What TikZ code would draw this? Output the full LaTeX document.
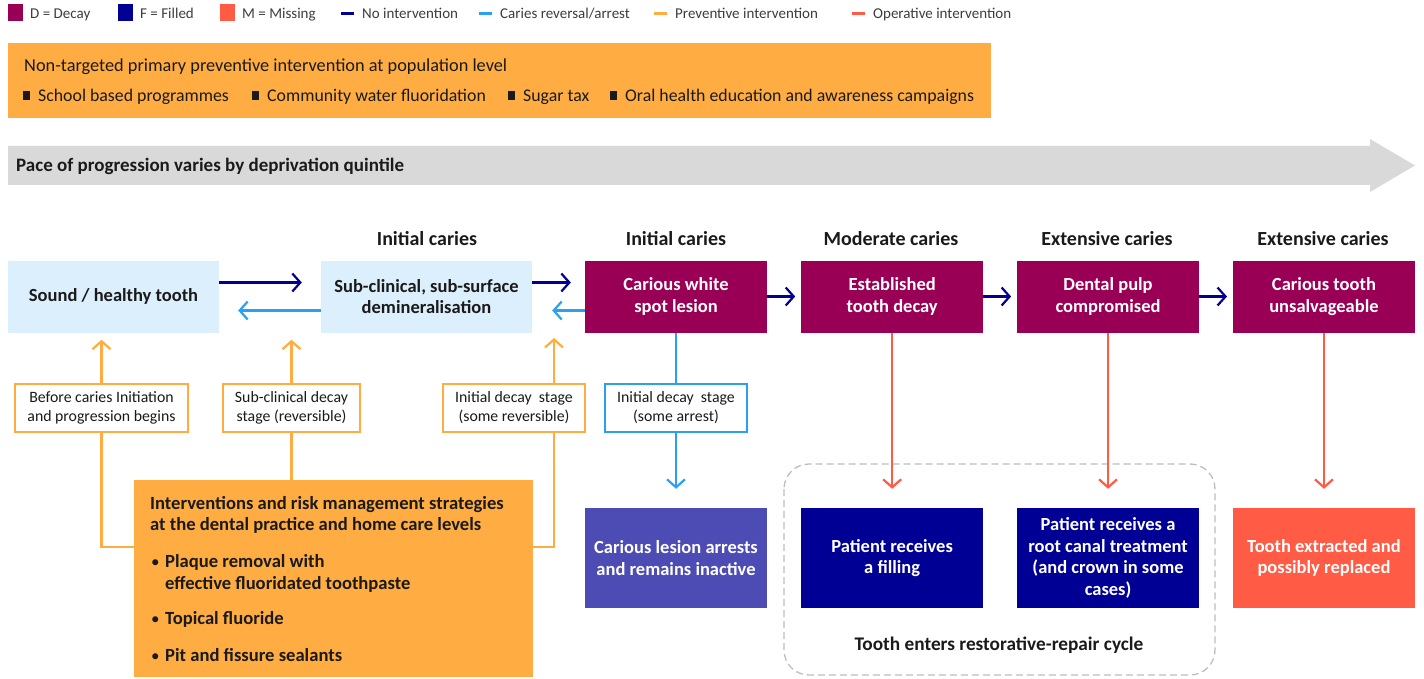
\documentclass[tikz,border=0pt]{standalone}
\usepackage{fontspec}
\setmainfont{Carlito}
\usetikzlibrary{arrows.meta,positioning}

\definecolor{decay}{HTML}{990055}
\definecolor{filled}{HTML}{000094}
\definecolor{missred}{HTML}{FF5B45}
\definecolor{soundblue}{HTML}{DCEFFC}
\definecolor{arrest}{HTML}{2CA0F0}
\definecolor{prevent}{HTML}{FFAD42}
\definecolor{inactive}{HTML}{4C4CB4}
\definecolor{pace}{HTML}{D9D9D9}
\definecolor{cycleline}{HTML}{BDBDBD}
\definecolor{ink}{HTML}{1A1A1A}

\begin{document}
\begin{tikzpicture}[x=1pt,y=-1pt]
    \tikzstyle{stagebox}=[minimum width=181.5pt, minimum height=72pt, inner sep=3pt, align=center, font=\fontsize{18.5}{21.5}\selectfont\bfseries];
    \tikzstyle{sound stage}=[stagebox, fill=soundblue, text=ink, minimum width=211pt];
    \tikzstyle{decay stage}=[stagebox, fill=decay, text=white];
    \tikzstyle{outcome}=[stagebox, minimum height=100pt, text=white];
    \tikzstyle{notebox}=[draw=prevent, line width=2pt, fill=white, minimum height=48pt, inner sep=3pt, align=center, font=\fontsize{15.8}{19}\selectfont, text=ink];
    \tikzstyle{heading}=[anchor=base, font=\fontsize{20}{22}\selectfont\bfseries, text=ink];
    \tikzstyle{legend text}=[anchor=base west, inner sep=0, font=\fontsize{15}{18}\selectfont, text=ink!85];
    \tikzstyle{practice text}=[anchor=base west, inner sep=0, font=\fontsize{18.6}{21}\selectfont\bfseries, text=ink];
    \tikzstyle{link}=[line width=2.2pt, -{Straight Barb[length=8pt,width=18pt]}];
    \tikzstyle{feed}=[line width=2.2pt];

    \useasboundingbox (0,0) rectangle (1424,679);

    % legend
    \foreach \x/\col/\txt [count=\i] in {8/decay/D = Decay, 118/filled/F = Filled, 220/missred/M = Missing} {
      \fill[\col] (\x,4) rectangle (\x+15,21);
      \node[legend text] (key \i) at (\x+22,19) {\txt};
    }
    \foreach \x/\col/\txt [count=\i] in {341/filled/No intervention, 479/arrest/{Caries reversal/arrest}, 654/prevent/Preventive intervention, 852/missred/Operative intervention} {
      \draw[\col, line width=3pt] (\x,14) -- (\x+13,14);
      \node[legend text] (line key \i) at (\x+21,19) {\txt};
    }

    % population level
    \node[fill=prevent, minimum width=983pt, minimum height=75pt, inner sep=0, anchor=north west] (population) at (8,43) {};
    \node[anchor=base west, inner sep=0, font=\fontsize{18.3}{20}\selectfont, text=ink] (population title) at (24,72) {Non-targeted primary preventive intervention at population level};
    \foreach \x/\txt [count=\i] in {23/School based programmes, 252/Community water fluoridation, 508/Sugar tax, 610/Oral health education and awareness campaigns} {
      \fill[ink] (\x,91) rectangle (\x+7,100);
      \node[anchor=base west, inner sep=0, font=\fontsize{17.8}{20}\selectfont, text=ink] (measure \i) at (\x+15,101.5) {\txt};
    }

    % pace arrow
    \fill[pace] (8,146) -- (1370,146) -- (1370,139) -- (1415,165.5) -- (1370,192) -- (1370,185) -- (8,185) -- cycle;
    \node[anchor=base west, inner sep=0, font=\fontsize{19}{20}\selectfont\bfseries, text=ink] (pace label) at (16,172) {Pace of progression varies by deprivation quintile};

    % headings
    \foreach \x/\txt [count=\i] in {427/Initial caries, 676/Initial caries, 891/Moderate caries, 1107/Extensive caries, 1323/Extensive caries} {
      \node[heading] (heading \i) at (\x,245) {\txt};
    }

    % stages
    \node[sound stage] (sound) at (113.5,296.5) {Sound / healthy tooth};
    \node[sound stage] (subclinical) at (426.5,296.5) {Sub-clinical, sub-surface\\demineralisation};
    \node[decay stage, minimum width=182pt] (white spot) at (676,296.5) {Carious white\\spot lesion};
    \node[decay stage, right=34pt of white spot] (established) {Established\\tooth decay};
    \node[decay stage, right=34pt of established] (pulp) {Dental pulp\\compromised};
    \node[decay stage, right=34pt of pulp] (unsalvageable) {Carious tooth\\unsalvageable};

    % outcomes
    \node[outcome, fill=inactive, minimum width=182pt] (inactive) at (676,558) {Carious lesion arrests\\and remains inactive};
    \node[outcome, fill=filled] (filling) at (established |- inactive) {Patient receives\\a filling};
    \node[outcome, fill=filled] (root canal) at (pulp |- inactive) {Patient receives a\\root canal treatment\\(and crown in some\\cases)};
    \node[outcome, fill=missred] (extracted) at (unsalvageable |- inactive) {Tooth extracted and\\possibly replaced};

    \draw[cycleline, line width=1.3pt, dash pattern=on 7pt off 4pt, rounded corners=25pt] (784,464) rectangle (1215,675);
    \node[font=\fontsize{19.3}{20}\selectfont\bfseries, text=ink] (cycle label) at (999,645) {Tooth enters restorative-repair cycle};

    % notes
    \node[notebox, minimum width=173pt] (before note) at (101.5,408) {Before caries Initiation\\and progression begins};
    \node[notebox, minimum width=137pt] (subclinical note) at (291.5,408) {Sub-clinical decay\\stage (reversible)};
    \node[notebox, minimum width=142pt] (reversible note) at (514,408) {Initial decay~ stage\\(some reversible)};
    \node[notebox, draw=arrest, minimum width=142pt] (arrest note) at (676,408) {Initial decay~ stage\\(some arrest)};

    % practice level
    \node[fill=prevent, minimum width=399pt, minimum height=197pt, inner sep=0, anchor=north west] (practice) at (134,480) {};
    \foreach \y/\txt [count=\i] in {509/Interventions and risk management strategies, 530/at the dental practice and home care levels} {
      \node[practice text] (practice line \i) at (150,\y) {\txt};
    }
    \foreach \y/\txt [count=\i] in {567/Plaque removal with, 624/Topical fluoride, 661/Pit and fissure sealants} {
      \node[practice text, font=\fontsize{17}{21}\selectfont] (bullet \i) at (151,\y) {\textbullet};
      \node[practice text] (strategy \i) at (165,\y) {\txt};
    }
    \node[practice text] (strategy 1b) at (165,589) {effective fluoridated toothpaste};

    % no intervention
    \draw[link, filled] ([yshift=14pt]sound.east) -- ([yshift=14pt, xshift=-19pt]subclinical.west);
    \draw[link, filled] ([yshift=14pt]subclinical.east) -- ([yshift=14pt, xshift=-14pt]white spot.west);
    \foreach \a/\b in {white spot/established, established/pulp, pulp/unsalvageable} {
      \draw[link, filled] (\a.east) -- ([xshift=-6pt]\b.west);
    }

    % caries reversal / arrest
    \draw[link, arrest] ([yshift=-14pt]subclinical.west) -- ([yshift=-14pt, xshift=19pt]sound.east);
    \draw[link, arrest] ([yshift=-14pt]white spot.west) -- ([yshift=-14pt, xshift=20pt]subclinical.east);
    \draw[feed, arrest] (white spot.south) -- (arrest note.north);
    \coordinate (arrest tip) at ([yshift=19pt]inactive.north);
    \draw[link, arrest] (arrest note.south) -- (arrest tip);

    % operative
    \foreach \a/\b in {established/filling, pulp/root canal, unsalvageable/extracted} {
      \draw[link, missred] (\a.south) -- ([yshift=19pt]\b.north);
    }

    % preventive
    \coordinate (sound foot) at ([yshift=-7pt]sound.south);
    \coordinate (reversible rise) at (554,338);
    \coordinate (join row) at (0,547);
    \draw[link, prevent] (before note.north) -- (before note.north |- sound foot);
    \draw[link, prevent] (subclinical note.north) -- (subclinical note.north |- sound foot);
    \draw[link, prevent] (reversible rise |- reversible note.north) -- (reversible rise);
    \draw[feed, prevent] (before note.south) |- (practice.west |- join row);
    \draw[feed, prevent] (subclinical note.south) -- (subclinical note.south |- practice.north);
    \draw[feed, prevent] (reversible rise |- reversible note.south) |- (practice.east |- join row);
\end{tikzpicture}
\end{document}
